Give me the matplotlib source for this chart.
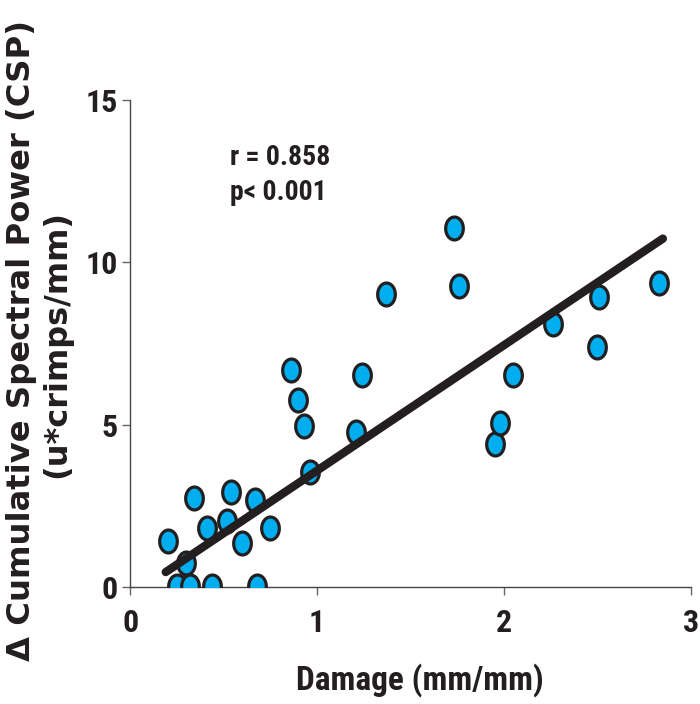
import numpy as np
import matplotlib.pyplot as plt
from matplotlib.path import Path

# damage (mm/mm) vs change in cumulative spectral power
damage = [0.20, 0.25, 0.30, 0.32, 0.34, 0.41, 0.44, 0.52, 0.54, 0.60, 0.67,
          0.68, 0.75, 0.86, 0.90, 0.93, 0.96, 1.21, 1.24, 1.37, 1.73, 1.76,
          1.95, 1.98, 2.05, 2.26, 2.50, 2.51, 2.83]
csp = [1.42, 0.05, 0.74, 0.05, 2.74, 1.83, 0.05, 2.05, 2.93, 1.36, 2.68,
       0.05, 1.83, 6.70, 5.76, 4.97, 3.54, 4.77, 6.53, 9.03, 11.07, 9.28,
       4.40, 5.05, 6.53, 8.11, 7.39, 8.94, 9.36]

# regression line as drawn in the figure
fit_slope = 3.86
fit_intercept = -0.27
stats_lines = ["r = 0.858", "p< 0.001"]

x = np.array(damage)
y = np.array(csp)

cond = ["Roboto Condensed", "Liberation Sans", "DejaVu Sans"]
plt.rcParams["font.family"] = ["DejaVu Sans"]
ink = "#231F20"

# tall ellipse marker
t = np.linspace(0, 2 * np.pi, 60)
ellipse = Path(np.column_stack([0.385 * np.cos(t), 0.5 * np.sin(t)]), closed=True)

fig = plt.figure(figsize=(7, 7.04), dpi=100)
ax = fig.add_axes([0.186, 0.166, 0.801, 0.692])

ax.plot(x, y, linestyle="none", marker=ellipse, markersize=16.5,
        markerfacecolor="#00AEEF", markeredgecolor=ink,
        markeredgewidth=2.3, zorder=3)

xl = np.array([x.min() - 0.01, x.max() + 0.02])
ax.plot(xl, fit_slope * xl + fit_intercept, color=ink, lw=6,
        solid_capstyle="round", zorder=4)

ax.set_xlim(0, 3)
ax.set_ylim(0, 15)
ax.set_xticks([0, 1, 2, 3])
ax.set_yticks([0, 5, 10, 15])

for s in ["top", "right"]:
    ax.spines[s].set_visible(False)
for s in ["left", "bottom"]:
    ax.spines[s].set_color("#444444")
    ax.spines[s].set_linewidth(1.0)

ax.tick_params(axis="both", direction="out", length=6, width=1.0,
               color="#666666", labelsize=23, labelcolor=ink)
ax.tick_params(axis="x", pad=9)
ax.tick_params(axis="y", pad=3)
for lab in ax.get_xticklabels() + ax.get_yticklabels():
    lab.set_fontweight("bold")
    lab.set_family(cond)

fig.text(0.6, 0.0199, "Damage (mm/mm)", ha="center", va="baseline",
         fontsize=24, fontweight="bold", family=cond, color=ink)

fig.text(0.031, 0.516, "\u0394 Cumulative Spectral Power (CSP)", rotation=90,
         ha="center", va="center", fontsize=23.2, fontweight="bold",
         color=ink)
fig.text(0.081, 0.511, "(u*crimps/mm)", rotation=90, ha="center",
         va="center", fontsize=23, fontweight="bold", color=ink)

for i, line in enumerate(stats_lines):
    ax.text(0.535, 13.0 - 1.08 * i, line, fontsize=20, fontweight="bold",
            family=cond, color=ink, va="baseline")

plt.savefig("out.png", dpi=100)
